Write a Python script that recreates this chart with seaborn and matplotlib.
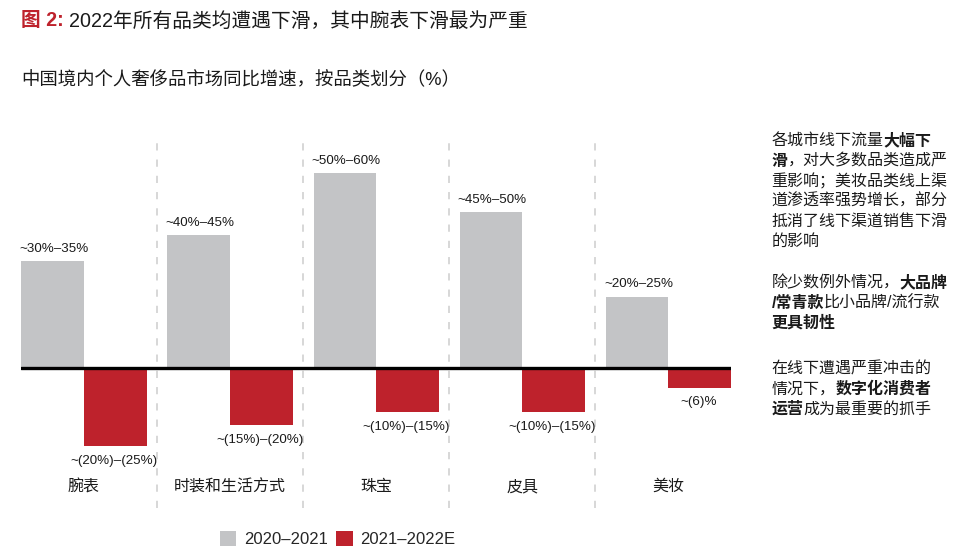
import matplotlib
matplotlib.use("Agg")
import matplotlib.pyplot as plt
import seaborn as sns
import pandas as pd
from matplotlib.patches import Patch

# ---- data ----
categories = ["腕表", "时装和生活方式", "珠宝", "皮具", "美妆"]
periods = ["2020–2021", "2021–2022E"]
growth_2021 = [33, 41, 60, 48, 22]
growth_2022 = [-24, -17.5, -13.5, -13.5, -6]
labels_2021 = ["~30%–35%", "~40%–45%", "~50%–60%", "~45%–50%", "~20%–25%"]
labels_2022 = ["~(20%)–(25%)", "~(15%)–(20%)", "~(10%)–(15%)", "~(10%)–(15%)", "~(6)%"]

title_prefix = "图 2:"
title_text = "2022年所有品类均遭遇下滑，其中腕表下滑最为严重"
subtitle = "中国境内个人奢侈品市场同比增速，按品类划分（%）"

side_paragraphs = [
    [[("各城市线下流量", False), ("大幅下", True)],
     [("滑", True), ("，对大多数品类造成严", False)],
     [("重影响；美妆品类线上渠", False)],
     [("道渗透率强势增长，部分", False)],
     [("抵消了线下渠道销售下滑", False)],
     [("的影响", False)]],
    [[("除少数例外情况，", False), ("大品牌", True)],
     [("/常青款", True), ("比小品牌/流行款", False)],
     [("更具韧性", True)]],
    [[("在线下遭遇严重冲击的", False)],
     [("情况下，", False), ("数字化消费者", True)],
     [("运营", True), ("成为最重要的抓手", False)]],
]

GRAY = "#c3c4c6"
RED = "#be222c"
TXT = "#1a1a1a"

df = pd.DataFrame({
    "cat": categories * 2,
    "period": [periods[0]] * len(categories) + [periods[1]] * len(categories),
    "val": growth_2021 + growth_2022,
})

sns.set_theme(style="white")
plt.rcParams["font.family"] = ["Liberation Sans", "Noto Sans CJK SC", "DejaVu Sans"]

W, H = 962, 555
fig = plt.figure(figsize=(W / 100, H / 100), dpi=100)

ax_l, ax_r, ax_t, ax_b = 21.3, 731, 136, 508
ax = fig.add_axes([ax_l / W, (H - ax_b) / H, (ax_r - ax_l) / W, (ax_b - ax_t) / H])

sns.barplot(data=df, x="cat", y="val", hue="period", order=categories,
            hue_order=periods, palette=[GRAY, RED], width=0.857, gap=0,
            saturation=1, legend=False, linewidth=0, ax=ax)

half = 0.857 / 2
ax.set_xlim(-half, len(categories) - 1 + half)
scale = 3.25  # px per unit
ax.set_ylim(-(ax_b - 368) / scale, (368 - ax_t) / scale)
ax.axis("off")

# separators
for i in range(len(categories) - 1):
    ax.axvline(i + 0.5, color="#d4d4d4", lw=1.3, linestyle=(0, (4, 5)), zorder=0)
ax.axhline(0, color="black", lw=2.4, zorder=5)

# value labels
for bar, lab in zip(ax.containers[0], labels_2021):
    ax.annotate(lab, (bar.get_x() + bar.get_width() / 2, bar.get_height()),
                xytext=(1, 8.8), textcoords="offset points", ha="center", va="center",
                fontsize=9.6, color=TXT)
for bar, lab in zip(ax.containers[1], labels_2022):
    ax.annotate(lab, (bar.get_x() + bar.get_width() / 2, bar.get_height()),
                xytext=(-1, -10.8), textcoords="offset points", ha="center", va="center",
                fontsize=9.6, color=TXT)

# category labels
for i, c in enumerate(categories):
    ax.text(i, (ax_b - 486.7) / (ax_b - ax_t), c, transform=ax.get_xaxis_transform(),
            ha="center", va="center", fontsize=11.5, color=TXT)

renderer = fig.canvas.get_renderer()


def draw_segments(x_px, y_px, segs, size, color_default=TXT, seg_colors=None):
    x = x_px
    for k, (s, bold) in enumerate(segs):
        col = seg_colors[k] if seg_colors else color_default
        t = fig.text(x / W, 1 - y_px / H, s, fontsize=size, color=col,
                     fontweight="bold" if bold else "normal", ha="left", va="center")
        bb = t.get_window_extent(renderer=renderer)
        x += bb.width


# title
draw_segments(21, 21, [(title_prefix + " ", True), (title_text, False)], 14.2,
              seg_colors=[RED, TXT])
fig.text(21 / W, 1 - 80 / H, subtitle, fontsize=13.25, color=TXT, ha="left", va="center")

# side notes
starts = [141, 283, 369]
for y0, para in zip(starts, side_paragraphs):
    for j, line in enumerate(para):
        draw_segments(771.5, y0 + 20 * j, line, 11.5)

# legend
handles = [Patch(facecolor=GRAY, edgecolor="none"), Patch(facecolor=RED, edgecolor="none")]
fig.legend(handles, periods, loc="center", bbox_to_anchor=(337.5 / W, 1 - 539 / H),
           ncol=2, frameon=False, fontsize=12, handlelength=1.0, handleheight=1.0,
           handletextpad=0.45, columnspacing=0.5, borderpad=0, borderaxespad=0)

fig.savefig("out.png", dpi=100)
